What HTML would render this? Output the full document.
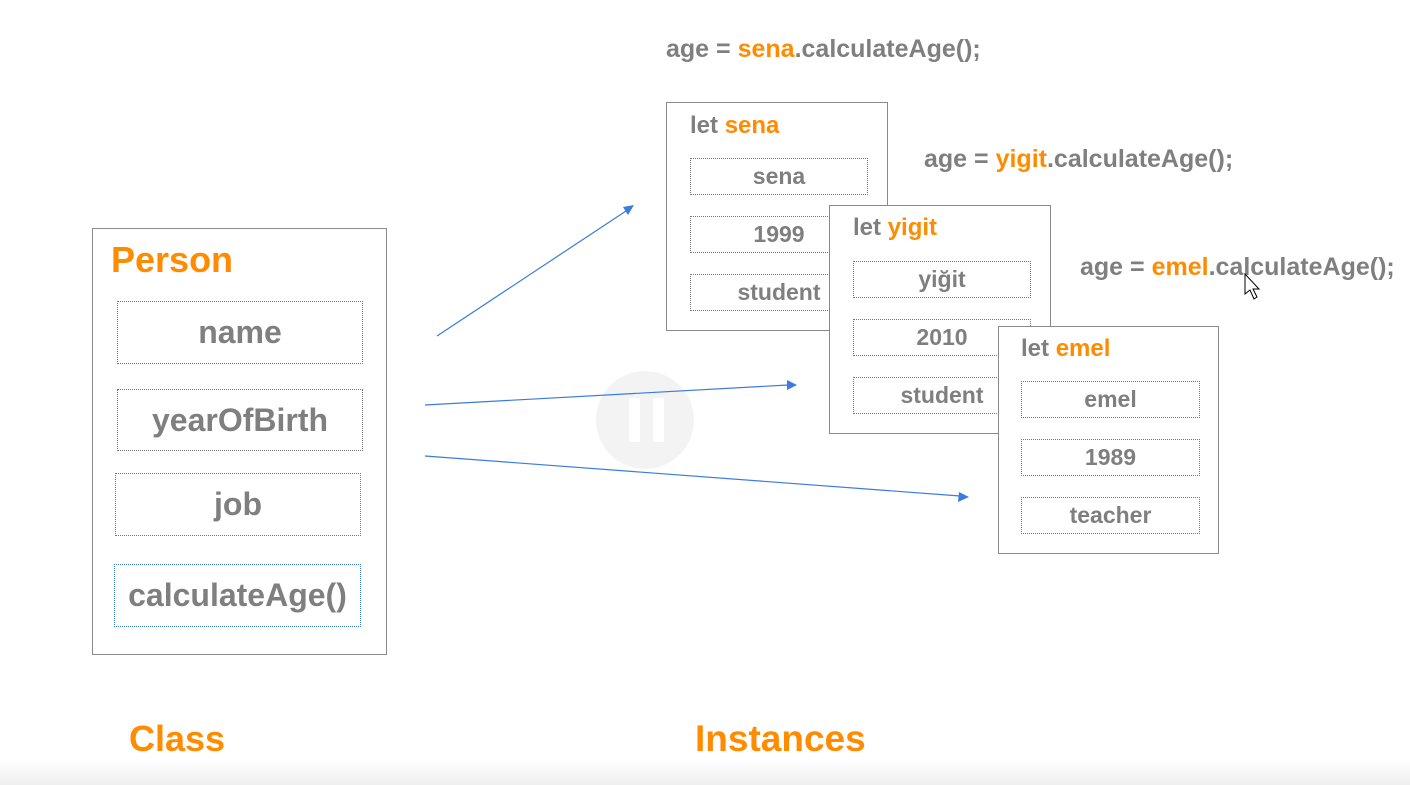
<!DOCTYPE html>
<html><head><style>
body{margin:0;width:1410px;height:785px;background:#fff;position:relative;overflow:hidden;font-family:"Liberation Sans",sans-serif;font-weight:bold;color:#7f7f7f}
.b{position:absolute;border:1.5px solid #8a8a8a;background:#fff;box-sizing:border-box}
.d{position:absolute;border:1.5px dotted #777;box-sizing:border-box;display:flex;align-items:center;justify-content:center;font-size:23px;background:#fff}
.t{position:absolute;white-space:nowrap}
.o{color:#ff8c00}
</style></head><body>
<div style="position:absolute;left:0;top:760px;width:1410px;height:25px;background:linear-gradient(#fff,#efefef)"></div>
<div class="b" style="left:92px;top:228px;width:295px;height:427px"></div>
<div class="t o" style="left:111px;top:239px;font-size:36px">Person</div>
<div class="d" style="left:117px;top:301px;width:246px;height:63px;font-size:32px">name</div>
<div class="d" style="left:117px;top:389px;width:246px;height:62px;font-size:32px">yearOfBirth</div>
<div class="d" style="left:115px;top:473px;width:246px;height:63px;font-size:32px">job</div>
<div class="d" style="left:114px;top:564px;width:247px;height:63px;font-size:32px;border-color:#3a7be0">calculateAge()</div>
<div class="t o" style="left:129px;top:718px;font-size:36px">Class</div>
<div class="t o" style="left:695px;top:718px;font-size:37px">Instances</div>

<div class="t" style="left:666px;top:35px;font-size:25px">age = <span class="o">sena</span>.calculateAge();</div>
<div class="t" style="left:924px;top:145px;font-size:25px">age = <span class="o">yigit</span>.calculateAge();</div>
<div class="t" style="left:1080px;top:253px;font-size:25px">age = <span class="o">emel</span>.calculateAge();</div>

<div class="b" style="left:666px;top:102px;width:222px;height:229px"></div>
<div class="t" style="left:690px;top:112px;font-size:24px">let <span class="o">sena</span></div>
<div class="d" style="left:690px;top:158px;width:178px;height:37px">sena</div>
<div class="d" style="left:690px;top:216px;width:178px;height:37px">1999</div>
<div class="d" style="left:690px;top:274px;width:178px;height:37px">student</div>

<div class="b" style="left:829px;top:205px;width:222px;height:229px"></div>
<div class="t" style="left:853px;top:214px;font-size:24px">let <span class="o">yigit</span></div>
<div class="d" style="left:853px;top:261px;width:178px;height:37px">yiğit</div>
<div class="d" style="left:853px;top:319px;width:178px;height:37px">2010</div>
<div class="d" style="left:853px;top:377px;width:178px;height:37px">student</div>

<div class="b" style="left:998px;top:326px;width:221px;height:228px"></div>
<div class="t" style="left:1021px;top:335px;font-size:24px">let <span class="o">emel</span></div>
<div class="d" style="left:1021px;top:381px;width:179px;height:37px">emel</div>
<div class="d" style="left:1021px;top:439px;width:179px;height:37px">1989</div>
<div class="d" style="left:1021px;top:497px;width:179px;height:37px">teacher</div>

<svg width="1410" height="785" style="position:absolute;left:0;top:0">
<circle cx="645" cy="420" r="49" fill="#f2f2f2" opacity="0.9"/>
<rect x="629" y="398" width="11" height="44" fill="#fff"/>
<rect x="653" y="398" width="11" height="44" fill="#fff"/>
<g stroke="#3a7be0" stroke-width="1.2" fill="#3a7be0">
<line x1="437" y1="336" x2="626" y2="211"/>
<polygon points="634,205 623,207 628,215" stroke="none"/>
<line x1="425" y1="405" x2="788" y2="385"/>
<polygon points="797,385 787,380 787,390" stroke="none"/>
<line x1="425" y1="456" x2="960" y2="496"/>
<polygon points="969,497 959,492 958,502" stroke="none"/>
</g>
<polygon points="1245,274 1245,294 1250,290 1254,299 1257,297 1253,289 1259,289" fill="#fff" stroke="#000" stroke-width="1"/>
</svg>
</body></html>
